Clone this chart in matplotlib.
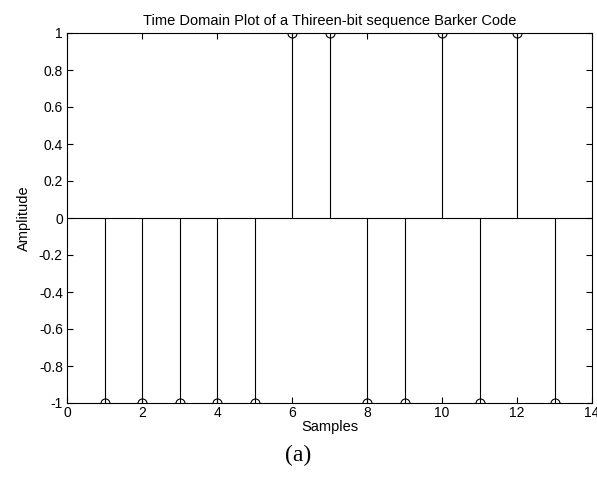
import matplotlib.pyplot as plt
import numpy as np

# Barker code (13 bits) as shown
samples = np.arange(1, 14)
amplitude = [-1, -1, -1, -1, -1, 1, 1, -1, -1, 1, -1, 1, -1]
xticks = [0, 2, 4, 6, 8, 10, 12, 14]
yticks = [-1, -0.8, -0.6, -0.4, -0.2, 0, 0.2, 0.4, 0.6, 0.8, 1]

plt.rcParams['font.family'] = ['Liberation Sans', 'DejaVu Sans']

fig = plt.figure(figsize=(5.97, 4.78), dpi=100)
ax = fig.add_axes([67 / 597, 1 - 403 / 478, 525 / 597, 370 / 478])

markerline, stemlines, baseline = ax.stem(samples, amplitude, basefmt='k-')
plt.setp(stemlines, color='black', linewidth=0.8)
plt.setp(markerline, color='black', marker='o', markerfacecolor='none',
         markersize=6.5, markeredgewidth=0.8)
plt.setp(baseline, color='black', linewidth=0.8)
baseline.set_xdata([0, 14])

ax.set_xlim(0, 14)
ax.set_ylim(-1, 1)
ax.set_xticks(xticks)
ax.set_yticks(yticks)
ax.set_xticklabels([str(t) for t in xticks])
ax.set_yticklabels(['-1', '-0.8', '-0.6', '-0.4', '-0.2', '0', '0.2', '0.4', '0.6', '0.8', '1'])
ax.tick_params(direction='in', top=True, right=True, labelsize=10, length=4, width=0.8, pad=3)
ax.tick_params(axis='x', pad=2)
for s in ax.spines.values():
    s.set_linewidth(0.8)

ax.set_title("Time Domain Plot of a Thireen-bit sequence Barker Code", fontsize=10.5, pad=6)
ax.set_xlabel("Samples", fontsize=10.5, labelpad=0)
ax.set_ylabel("Amplitude", fontsize=10.5, labelpad=6)

fig.text(0.5, 1 - 455 / 478, "(a)", ha='center', va='center',
         fontsize=17, family=['Liberation Serif', 'DejaVu Serif'])

fig.savefig("out.png", dpi=100)
